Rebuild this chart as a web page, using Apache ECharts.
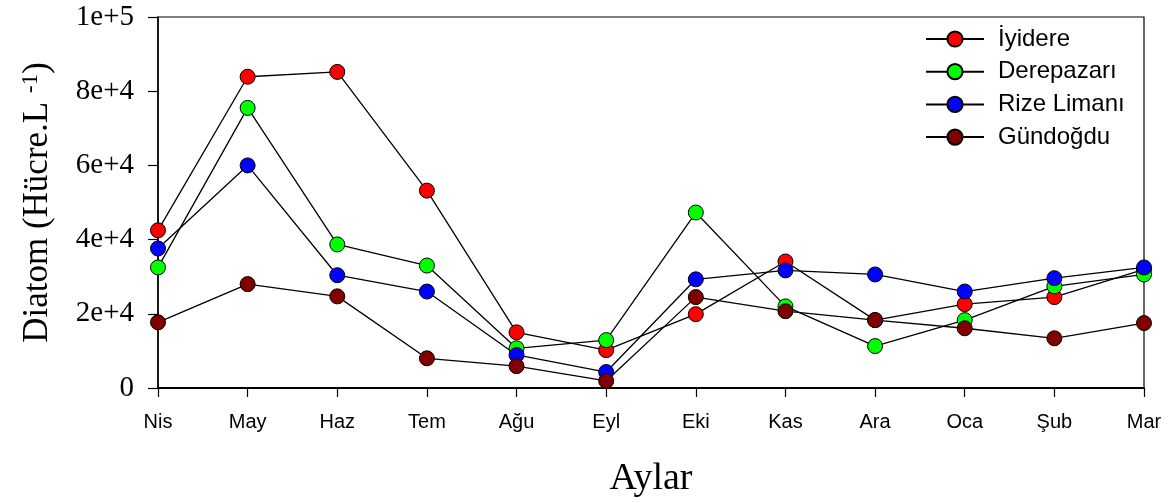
<!DOCTYPE html>
<html>
<head>
<meta charset="utf-8">
<script src="https://cdn.jsdelivr.net/npm/echarts@6/dist/echarts.min.js"></script>
<style>
  html, body { margin: 0; padding: 0; background: #fff; }
  #chart { width: 1173px; height: 503px; }
</style>
</head>
<body>
<div id="chart"></div>
<script>
// Months (Nisan → Mart)
const months = ['Nis', 'May', 'Haz', 'Tem', 'Ağu', 'Eyl', 'Eki', 'Kas', 'Ara', 'Oca', 'Şub', 'Mar'];

// Diatom abundance (cells per litre) by station
const iyidere     = [42500, 83900, 85200, 53200, 15000, 10200, 19900, 34100, 18300, 22600, 24500, 32000];
const derepazari  = [32500, 75500, 38700, 33000, 10700, 12900, 47300, 22000, 11300, 18300, 27400, 30600];
const rizeLimani  = [37600, 60000, 30400, 26000,  8900,  4300, 29300, 31700, 30600, 26000, 29600, 32500];
const gundogdu    = [17700, 28000, 24700,  8000,  5900,  1900, 24500, 20700, 18300, 16100, 13400, 17500];

const stations = [
  { name: 'İyidere',     data: iyidere,    color: '#ff0000' },
  { name: 'Derepazarı',  data: derepazari, color: '#00ff00' },
  { name: 'Rize Limanı', data: rizeLimani, color: '#0000ff' },
  { name: 'Gündoğdu',    data: gundogdu,   color: '#800000' }
];

const serif = "'Liberation Serif', 'Times New Roman', serif";
const sans = "'Liberation Sans', Arial, sans-serif";

function yLabel(v) {
  if (v === 0) return '0';
  if (v >= 100000) return (v / 100000) + 'e+5';
  return (v / 10000) + 'e+4';
}

const chart = echarts.init(document.getElementById('chart'), null, { renderer: 'canvas' });

chart.setOption({
  animation: false,
  backgroundColor: '#ffffff',
  grid: {
    left: 158, right: 29, top: 17, bottom: 114,
    show: true, borderColor: '#000', borderWidth: 1.2, backgroundColor: 'transparent'
  },
  legend: {
    left: 925, top: 27, orient: 'vertical', padding: 0,
    itemWidth: 58, itemHeight: 19, itemGap: 8.7,
    textStyle: { fontFamily: sans, fontSize: 24, color: '#000', padding: [0, 0, 0, 9] },
    data: stations.map(s => s.name)
  },
  xAxis: {
    type: 'category',
    data: months,
    boundaryGap: false,
    name: 'Aylar',
    nameLocation: 'middle',
    nameGap: 72,
    nameTextStyle: { fontFamily: serif, fontSize: 38, color: '#000' },
    axisLine: { lineStyle: { color: '#000', width: 1.8 } },
    axisTick: { show: true, inside: false, length: 9, alignWithLabel: true, lineStyle: { color: '#000', width: 1.2 } },
    axisLabel: { fontFamily: sans, fontSize: 20, color: '#000', margin: 24 },
    splitLine: { show: false }
  },
  yAxis: {
    type: 'value',
    min: 0, max: 100000, interval: 20000,
    name: 'Diatom (Hücre.L {sup|-1})',
    nameLocation: 'middle',
    nameGap: 101,
    nameTextStyle: {
      fontFamily: serif, fontSize: 35, color: '#000',
      rich: { sup: { fontFamily: serif, fontSize: 23, color: '#000', verticalAlign: 'top', padding: [0, 0, 15, 0] } }
    },
    axisLine: { show: true, lineStyle: { color: '#000', width: 1.5 } },
    axisTick: { show: true, inside: false, length: 10, lineStyle: { color: '#000', width: 1.2 } },
    axisLabel: { fontFamily: serif, fontSize: 29, color: '#000', margin: 24, formatter: yLabel },
    splitLine: { show: false }
  },
  series: stations.map(s => ({
    name: s.name,
    type: 'line',
    data: s.data,
    symbol: 'circle',
    symbolSize: 15,
    lineStyle: { color: '#000', width: 1.3 },
    itemStyle: { color: s.color, borderColor: '#000', borderWidth: 1 }
  }))
});
</script>
</body>
</html>
